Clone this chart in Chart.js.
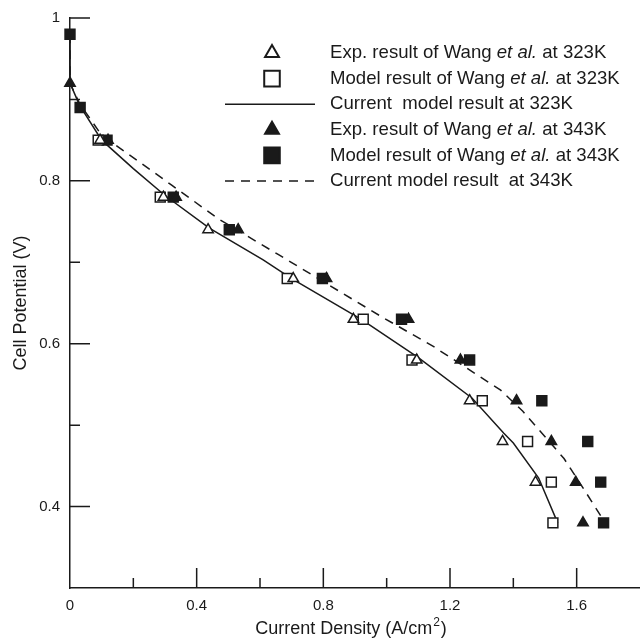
<!DOCTYPE html>
<html>
<head>
<meta charset="utf-8">
<title>Cell Potential vs Current Density</title>
<script src="https://cdn.jsdelivr.net/npm/chart.js@4.4.1/dist/chart.umd.min.js"></script>
<style>
  html, body { margin: 0; padding: 0; background: #fff; overflow: hidden; }
  canvas { display: block; }
</style>
</head>
<body>
<canvas id="chart" width="640" height="642"></canvas>
<script>
// values
const legendLabels = [
  'Exp. result of Wang et al. at 323K',
  'Model result of Wang et al. at 323K',
  'Current  model result at 323K',
  'Exp. result of Wang et al. at 343K',
  'Model result of Wang et al. at 343K',
  'Current model result  at 343K'
];

const exp323X = [0.095, 0.295, 0.436, 0.705, 0.895, 1.095, 1.262, 1.366, 1.47];
const exp323Y = [0.85, 0.78, 0.74, 0.68, 0.63, 0.58, 0.53, 0.48, 0.43];

const mod323X = [0.089, 0.285, 0.686, 0.926, 1.08, 1.302, 1.445, 1.52, 1.525];
const mod323Y = [0.85, 0.78, 0.68, 0.63, 0.58, 0.53, 0.48, 0.43, 0.38];

const cur323X = [0, 0, 0.03, 0.1, 0.2, 0.3, 0.44, 0.61, 0.7, 0.92, 1.1, 1.27, 1.37, 1.40, 1.48, 1.54];
const cur323Y = [0.98, 0.92, 0.893, 0.85, 0.815, 0.782, 0.742, 0.703, 0.68, 0.63, 0.583, 0.533, 0.49, 0.478, 0.435, 0.38];

const exp343X = [0, 0.12, 0.335, 0.531, 0.81, 1.069, 1.233, 1.41, 1.52, 1.597, 1.62];
const exp343Y = [0.92, 0.85, 0.78, 0.74, 0.68, 0.63, 0.58, 0.53, 0.48, 0.43, 0.38];

const mod343X = [0, 0.032, 0.117, 0.326, 0.503, 0.797, 1.047, 1.262, 1.49, 1.635, 1.676, 1.685];
const mod343Y = [0.98, 0.89, 0.85, 0.78, 0.74, 0.68, 0.63, 0.58, 0.53, 0.48, 0.43, 0.38];

const cur343X = [0, 0, 0.03, 0.1, 0.22, 0.32, 0.47, 0.66, 0.98, 1.15, 1.36, 1.43, 1.56, 1.62, 1.69];
const cur343Y = [0.98, 0.92, 0.895, 0.856, 0.823, 0.795, 0.753, 0.709, 0.634, 0.596, 0.543, 0.517, 0.459, 0.423, 0.38];

// tick positions and which of them are labelled
const xTicks = [0.2, 0.4, 0.6, 0.8, 1.0, 1.2, 1.4, 1.6];
const xLabels = ['0', '0.4', '0.8', '1.2', '1.6'];
const yTicks = [0.4, 0.5, 0.6, 0.7, 0.8, 0.9, 1.0];
const yLabels = ['0.4', '0.6', '0.8', '1'];

const INK = '#1a1a1a';
const FONT = '"Liberation Sans", Arial, sans-serif';

function pts(xs, ys) {
  return xs.map((x, i) => ({ x: x, y: ys[i] }));
}
function fmt(v) {
  return String(+v.toFixed(1));
}

// ticks inside the plot area + x title with superscript
const innerTicks = {
  id: 'innerTicks',
  afterDraw(chart) {
    const ctx = chart.ctx, xs = chart.scales.x, ys = chart.scales.y;
    const a = chart.chartArea;
    ctx.save();
    ctx.strokeStyle = INK;
    ctx.lineWidth = 1.5;
    ctx.beginPath();
    xTicks.forEach(v => {
      const p = xs.getPixelForValue(v);
      const len = xLabels.includes(fmt(v)) ? 20 : 10;
      ctx.moveTo(p, a.bottom);
      ctx.lineTo(p, a.bottom - len);
    });
    yTicks.forEach(v => {
      const p = ys.getPixelForValue(v);
      const len = yLabels.includes(fmt(v)) ? 20 : 10;
      ctx.moveTo(a.left, p);
      ctx.lineTo(a.left + len, p);
    });
    ctx.stroke();

    ctx.fillStyle = INK;
    ctx.textBaseline = 'alphabetic';
    const t1 = 'Current Density (A/cm', t2 = '2', t3 = ')';
    ctx.font = '18px ' + FONT;
    const w1 = ctx.measureText(t1).width, w3 = ctx.measureText(t3).width;
    ctx.font = '12px ' + FONT;
    const w2 = ctx.measureText(t2).width;
    let x = 350 - (w1 + w2 + w3) / 2;
    const y = 634;
    ctx.font = '18px ' + FONT;
    ctx.textAlign = 'left';
    ctx.fillText(t1, x, y);
    ctx.font = '12px ' + FONT;
    ctx.fillText(t2, x + w1 + 1, y - 8);
    ctx.font = '18px ' + FONT;
    ctx.fillText(t3, x + w1 + w2 + 2, y);
    ctx.restore();
  }
};

// legend inside the plot, with italic "et al."
const figLegend = {
  id: 'figLegend',
  afterDraw(chart) {
    const ctx = chart.ctx;
    const symX = 272, textX = 330, top = 53, step = 25.6;
    const size = 18.6;
    ctx.save();
    chart.data.datasets.forEach((ds, i) => {
      const y = top + i * step;
      ctx.strokeStyle = INK;
      ctx.fillStyle = ds.pointBackgroundColor || INK;
      if (ds.showLine) {
        ctx.lineWidth = 1.5;
        ctx.setLineDash(ds.borderDash || []);
        ctx.beginPath();
        ctx.moveTo(225, y);
        ctx.lineTo(315, y);
        ctx.stroke();
        ctx.setLineDash([]);
      } else {
        ctx.lineWidth = 2;
        Chart.helpers.drawPoint(ctx, {
          pointStyle: ds.pointStyle,
          radius: ds.pointStyle === 'rect' ? 11 : 8,
          rotation: 0,
          borderWidth: 2
        }, symX, y);
      }
      ctx.fillStyle = INK;
      ctx.textBaseline = 'middle';
      ctx.textAlign = 'left';
      const parts = legendLabels[i].split('et al.');
      let x = textX;
      parts.forEach((p, k) => {
        ctx.font = size + 'px ' + FONT;
        ctx.fillText(p, x, y);
        x += ctx.measureText(p).width;
        if (k < parts.length - 1) {
          ctx.font = 'italic ' + size + 'px ' + FONT;
          ctx.fillText('et al.', x, y);
          x += ctx.measureText('et al.').width;
        }
      });
    });
    ctx.restore();
  }
};

function markers(label, xs, ys, style, fill, r) {
  return {
    label: label,
    data: pts(xs, ys),
    showLine: false,
    pointStyle: style,
    pointRadius: r,
    pointBackgroundColor: fill,
    pointBorderColor: INK,
    pointBorderWidth: 1.5,
    clip: false,
    order: 1
  };
}
function curve(label, xs, ys, dash) {
  return {
    label: label,
    data: pts(xs, ys),
    showLine: true,
    borderColor: INK,
    borderWidth: 1.5,
    borderDash: dash,
    pointRadius: 0,
    tension: 0,
    clip: false,
    order: 2
  };
}

new Chart(document.getElementById('chart'), {
  type: 'scatter',
  data: {
    datasets: [
      markers(legendLabels[0], exp323X, exp323Y, 'triangle', '#ffffff', 6),
      markers(legendLabels[1], mod323X, mod323Y, 'rect', '#ffffff', 7),
      curve(legendLabels[2], cur323X, cur323Y, []),
      markers(legendLabels[3], exp343X, exp343Y, 'triangle', INK, 6),
      markers(legendLabels[4], mod343X, mod343Y, 'rect', INK, 7),
      curve(legendLabels[5], cur343X, cur343Y, [9, 7])
    ]
  },
  plugins: [innerTicks, figLegend],
  options: {
    responsive: false,
    animation: false,
    // no automatic room for point overflow: the plot runs to the right edge
    layout: { autoPadding: false, padding: { top: 18, right: 0, left: 0, bottom: 0 } },
    plugins: {
      legend: { display: false },
      tooltip: { enabled: false }
    },
    scales: {
      x: {
        type: 'linear',
        min: 0, max: 1.8,
        // tick marks are drawn by the plugin; tickLength only spaces the labels
        grid: { display: false, drawTicks: true, tickLength: 9 },
        border: { display: true, color: INK, width: 1.5 },
        ticks: {
          stepSize: 0.2,
          padding: 0,
          color: INK,
          font: { family: FONT, size: 15 },
          callback: v => (xLabels.includes(fmt(v)) ? fmt(v) : '')
        },
        afterFit: s => { s.height = 54; s.paddingRight = 0; }
      },
      y: {
        type: 'linear',
        min: 0.3, max: 1.0,
        grid: { display: false, drawTicks: true, tickLength: 10 },
        border: { display: true, color: INK, width: 1.5 },
        ticks: {
          stepSize: 0.1,
          padding: 0,
          color: INK,
          font: { family: FONT, size: 15 },
          callback: v => (yLabels.includes(fmt(v)) ? fmt(v) : '')
        },
        title: {
          display: true,
          text: 'Cell Potential (V)',
          color: INK,
          font: { family: FONT, size: 18 },
          padding: { top: 10, bottom: 0 }
        },
        afterFit: s => { s.width = 70; }
      }
    }
  }
});
</script>
</body>
</html>
